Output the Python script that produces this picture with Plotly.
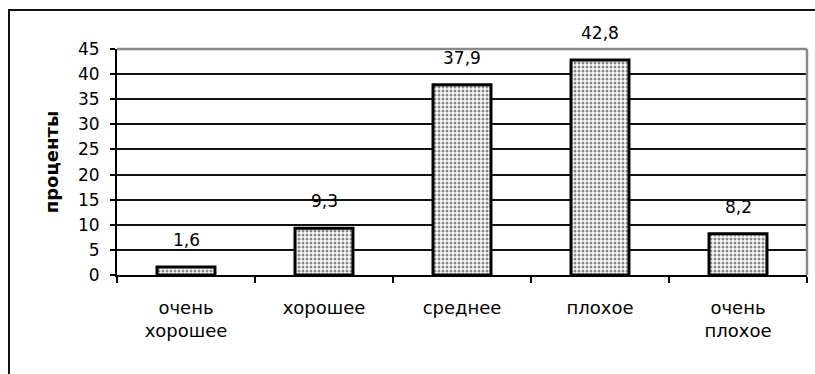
import plotly.graph_objects as go

# Survey results: share of respondents per rating (percent)
categories = ["очень<br>хорошее", "хорошее", "среднее", "плохое", "очень<br>плохое"]
values = [1.6, 9.3, 37.9, 42.8, 8.2]
value_labels = [f"{v:.1f}".replace(".", ",") for v in values]
y_ticks = [0, 5, 10, 15, 20, 25, 30, 35, 40, 45]

FONT = "DejaVu Sans"

fig = go.Figure()
fig.add_trace(go.Bar(
    x=categories,
    y=values,
    width=0.42,
    marker=dict(
        color="white",
        line=dict(color="black", width=3),
        pattern=dict(shape=".", fgcolor="#111", bgcolor="white", size=4, solidity=0.45),
    ),
    showlegend=False,
))

# value labels above each bar
for c, v, t in zip(categories, values, value_labels):
    fig.add_annotation(x=c, y=v, text=t, showarrow=False, yshift=27,
                       font=dict(family=FONT, size=17, color="black"))

L, R, T, B = 117, 8, 49, 99
W, H = 815, 374
pw, ph = W - L - R, H - T - B

def px_x(p):
    return (p - L) / pw

def px_y(p):
    return (H - B - p) / ph

shapes = [
    # outer chart frame
    dict(type="rect", xref="paper", yref="paper",
         x0=px_x(9), x1=px_x(830), y0=px_y(10), y1=px_y(400),
         line=dict(color="#111", width=2), layer="below"),
    # grey plot-area frame on top and right
    dict(type="line", xref="paper", yref="paper", x0=0, x1=1, y0=1, y1=1,
         line=dict(color="#888", width=2.5)),
    dict(type="line", xref="paper", yref="paper", x0=1, x1=1, y0=0, y1=1,
         line=dict(color="#888", width=2.5)),
]

fig.update_layout(
    width=W, height=H,
    margin=dict(l=L, r=R, t=T, b=B),
    paper_bgcolor="white", plot_bgcolor="white",
    font=dict(family=FONT, color="black"),
    bargap=0.58,
    shapes=shapes,
)
fig.update_xaxes(
    type="category",
    tickfont=dict(family=FONT, size=18, color="black"),
    showline=True, linecolor="black", linewidth=2,
    ticks="outside", tickson="boundaries", ticklen=6, tickwidth=2, tickcolor="black",
    ticklabelstandoff=15,
    showgrid=False,
)
fig.update_yaxes(
    range=[0, 45],
    tickvals=y_ticks,
    tickfont=dict(family=FONT, size=17, color="black"),
    showline=True, linecolor="black", linewidth=2,
    ticks="outside", ticklen=5, tickwidth=2, tickcolor="black",
    ticklabelstandoff=7,
    showgrid=True, gridcolor="#111", gridwidth=2,
    zeroline=False,
    title=dict(text="<b>проценты</b>", font=dict(family=FONT, size=18, color="black"), standoff=15),
)

fig.write_html("out.html")
